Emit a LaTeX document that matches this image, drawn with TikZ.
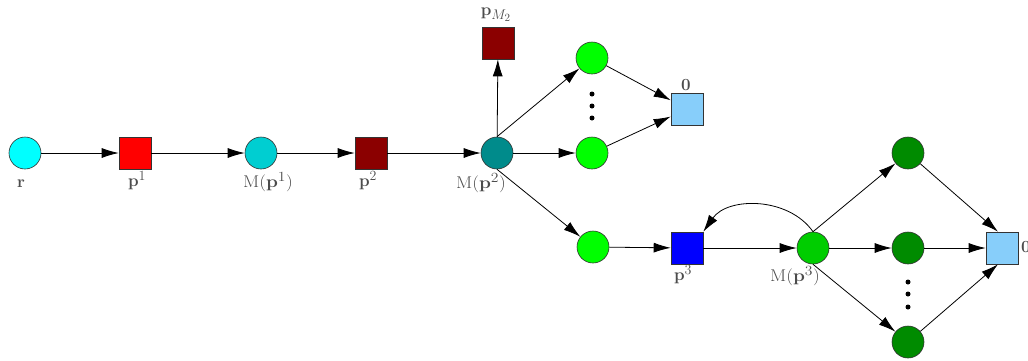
\RequirePackage{fix-cm}
\documentclass[tikz,border=0pt]{standalone}
\usetikzlibrary{arrows.meta}
\DeclareMathSizes{17}{17}{14}{11}
\definecolor{cR}{RGB}{0,255,255}
\definecolor{cPone}{RGB}{255,0,0}
\definecolor{cMone}{RGB}{0,206,209}
\definecolor{cDred}{RGB}{139,0,0}
\definecolor{cMtwo}{RGB}{0,139,139}
\definecolor{cLime}{RGB}{0,255,0}
\definecolor{cZero}{RGB}{135,206,250}
\definecolor{cBlue}{RGB}{0,0,255}
\definecolor{cMthree}{RGB}{0,205,0}
\definecolor{cDgreen}{RGB}{0,139,0}
\begin{document}
\begin{tikzpicture}[x=1pt,y=1pt,
 place/.style={circle,draw=black!80,line width=0.6pt,minimum size=32pt,inner sep=0pt},
 trans/.style={rectangle,draw=black!80,line width=0.6pt,minimum size=32pt,inner sep=0pt},
 lbl/.style={text=black!70,font=\fontsize{17}{20}\selectfont,inner sep=0pt},
 arc/.style={line width=0.8pt,-{Latex[length=17pt,width=10pt]}},
 vdot/.style={circle,fill=black,inner sep=0pt,minimum size=5pt}]
\useasboundingbox (0,0) rectangle (1028,-360);
% nodes
\node[place,fill=cR] (r) at (25,-153) {};
\node[trans,fill=cPone] (p1) at (135,-153) {};
\node[place,fill=cMone] (m1) at (261,-153) {};
\node[trans,fill=cDred] (p2) at (371,-153) {};
\node[place,fill=cMtwo] (m2) at (497,-153) {};
\node[trans,fill=cDred] (pm) at (498,-43) {};
\node[place,fill=cLime] (g1) at (592,-58) {};
\node[place,fill=cLime] (g2) at (592,-153) {};
\node[place,fill=cLime] (g3) at (593,-247) {};
\node[trans,fill=cZero] (z1) at (687,-109) {};
\node[trans,fill=cBlue] (p3) at (687,-248) {};
\node[place,fill=cMthree] (m3) at (813,-248) {};
\node[place,fill=cDgreen] (d1) at (908,-153) {};
\node[place,fill=cDgreen] (d2) at (908,-248) {};
\node[place,fill=cDgreen] (d3) at (908,-342) {};
\node[trans,fill=cZero] (z2) at (1002,-248) {};
% dots
\node[vdot] (a1) at (592,-94) {};
\node[vdot] (a2) at (592,-106) {};
\node[vdot] (a3) at (592,-118) {};
\node[vdot] (b1) at (908,-282) {};
\node[vdot] (b2) at (908,-294) {};
\node[vdot] (b3) at (908,-307) {};
% labels
\node[lbl] (lr) at (21,-184) {$\mathbf{r}$};
\node[lbl] (lp1) at (137,-181) {$\mathbf{p}^1$};
\node[lbl] (lm1) at (268,-182) {\scalebox{1.12}[1]{$\mathrm{M}(\mathbf{p}^1)$}};
\node[lbl] (lp2) at (368,-181) {$\mathbf{p}^2$};
\node[lbl] (lm2) at (481,-183) {\scalebox{1.12}[1]{$\mathrm{M}(\mathbf{p}^2)$}};
\node[lbl] (lpm) at (496,-15) {$\mathbf{p}_{M_2}$};
\node[lbl] (lz1) at (686,-85) {$\mathbf{0}$};
\node[lbl] (lp3) at (683,-275) {$\mathbf{p}^3$};
\node[lbl] (lm3) at (795,-276) {\scalebox{1.12}[1]{$\mathrm{M}(\mathbf{p}^3)$}};
\node[lbl,anchor=west] (lz2) at (1021,-247) {$\mathbf{0}$};
% arcs
\draw[arc] (r) -- (p1);
\draw[arc] (p1) -- (m1);
\draw[arc] (m1) -- (p2);
\draw[arc] (p2) -- (m2);
\draw[arc] (m2) -- (pm);
\draw[arc] (m2.north) -- (g1);
\draw[arc] (m2) -- (g2);
\draw[arc] (m2.south) -- (g3);
\draw[arc] (g1) -- (z1);
\draw[arc] (g2) -- (z1);
\draw[arc] (g3) -- (p3);
\draw[arc] (p3) -- (m3);
\draw[arc] (m3.north) to[out=125,in=55] (p3.north east);
\draw[arc] (m3.north) -- (d1);
\draw[arc] (m3) -- (d2);
\draw[arc] (m3.south) -- (d3);
\draw[arc] (d1) -- ([xshift=-4pt]z2.north);
\draw[arc] (d2) -- (z2);
\draw[arc] (d3) -- ([xshift=-4pt]z2.south);
\end{tikzpicture}
\end{document}
